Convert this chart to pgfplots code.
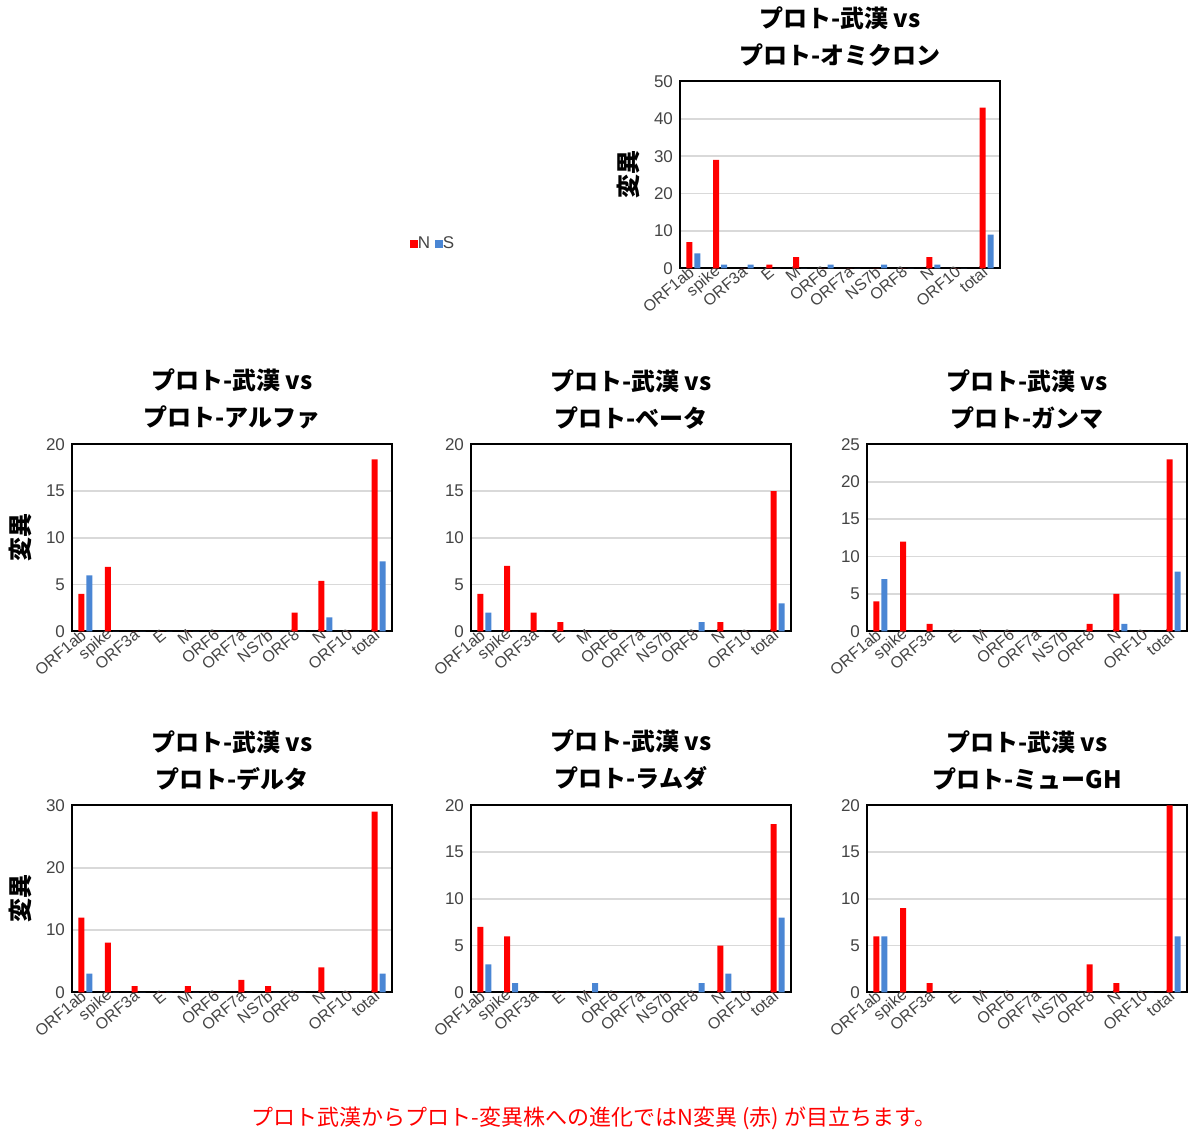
\documentclass[border=0pt]{standalone}
\usepackage{fontspec}
\setmainfont{Liberation Sans}
\newfontfamily\jp{Noto Sans CJK JP}
\usepackage{pgfplots}
\pgfplotsset{compat=1.18}
\definecolor{nred}{HTML}{FF0000}
\definecolor{sblue}{HTML}{4A86D4}
\definecolor{tick}{HTML}{444444}
\pgfplotsset{panel/.style={
  scale only axis, width=160pt, height=93.5pt, anchor=north west,
  ybar=1pt, bar width=3pt, xmin=-0.5, xmax=11.5, ymin=0,
  xtick={0,...,11}, xticklabels={ORF1ab,spike,ORF3a,E,M,ORF6,ORF7a,NS7b,ORF8,N,ORF10,total},
  x tick label style={rotate=40, anchor=east, font=\fontsize{8}{9}\selectfont, text=tick, inner sep=1pt},
  y tick label style={font=\fontsize{8.5}{10}\selectfont, text=tick},
  /pgf/number format/assume math mode=true,
  major tick length=0pt, ymajorgrids, grid style={gray!30, line width=0.8pt},
  axis line style={black, line width=1pt},
  title style={font=\jp\bfseries\fontsize{12}{18.5}\selectfont, align=center, yshift=-2pt},
  ylabel style={font=\jp\bfseries\fontsize{12}{14}\selectfont},
  every axis plot/.append style={draw=none},
}}
\begin{document}
\begin{tikzpicture}
\path (0pt,0pt) rectangle (600pt,-565.5pt);
% Omicron
\begin{axis}[panel, at={(340pt,-37.5pt)}, ymax=50, ytick={0,10,...,50}, title={プロト-武漢 vs\\プロト-オミクロン}, ylabel={変異}]
\addplot[fill=nred] coordinates {(0,7)(1,29)(2,0)(3,1)(4,3)(5,0)(6,0)(7,0)(8,0)(9,3)(10,0)(11,43)};
\addplot[fill=sblue] coordinates {(0,4)(1,1)(2,1)(3,0)(4,0)(5,1)(6,0)(7,1)(8,0)(9,1)(10,0)(11,9)};
\end{axis}
% Alpha
\begin{axis}[panel, at={(36pt,-219pt)}, ymax=20, ytick={0,5,...,20}, title={プロト-武漢 vs\\プロト-アルファ}, ylabel={変異}]
\addplot[fill=nred] coordinates {(0,4)(1,6.9)(2,0)(3,0)(4,0)(5,0)(6,0)(7,0)(8,2)(9,5.4)(10,0)(11,18.4)};
\addplot[fill=sblue] coordinates {(0,6)(1,0)(2,0)(3,0)(4,0)(5,0)(6,0)(7,0)(8,0)(9,1.5)(10,0)(11,7.5)};
\end{axis}
% Beta
\begin{axis}[panel, at={(235.5pt,-219pt)}, ymax=20, ytick={0,5,...,20}, title={プロト-武漢 vs\\プロト-ベータ}]
\addplot[fill=nred] coordinates {(0,4)(1,7)(2,2)(3,1)(4,0)(5,0)(6,0)(7,0)(8,0)(9,1)(10,0)(11,15)};
\addplot[fill=sblue] coordinates {(0,2)(1,0)(2,0)(3,0)(4,0)(5,0)(6,0)(7,0)(8,1)(9,0)(10,0)(11,3)};
\end{axis}
% Gamma
\begin{axis}[panel, at={(433.5pt,-219pt)}, ymax=25, ytick={0,5,...,25}, title={プロト-武漢 vs\\プロト-ガンマ}]
\addplot[fill=nred] coordinates {(0,4)(1,12)(2,1)(3,0)(4,0)(5,0)(6,0)(7,0)(8,1)(9,5)(10,0)(11,23)};
\addplot[fill=sblue] coordinates {(0,7)(1,0)(2,0)(3,0)(4,0)(5,0)(6,0)(7,0)(8,0)(9,1)(10,0)(11,8)};
\end{axis}
% Delta
\begin{axis}[panel, at={(36pt,-399.5pt)}, ymax=30, ytick={0,10,...,30}, title={プロト-武漢 vs\\プロト-デルタ}, ylabel={変異}]
\addplot[fill=nred] coordinates {(0,12)(1,8)(2,1)(3,0)(4,1)(5,0)(6,2)(7,1)(8,0)(9,4)(10,0)(11,29)};
\addplot[fill=sblue] coordinates {(0,3)(1,0)(2,0)(3,0)(4,0)(5,0)(6,0)(7,0)(8,0)(9,0)(10,0)(11,3)};
\end{axis}
% Lambda
\begin{axis}[panel, at={(235.5pt,-399.5pt)}, ymax=20, ytick={0,5,...,20}, title={プロト-武漢 vs\\プロト-ラムダ}]
\addplot[fill=nred] coordinates {(0,7)(1,6)(2,0)(3,0)(4,0)(5,0)(6,0)(7,0)(8,0)(9,5)(10,0)(11,18)};
\addplot[fill=sblue] coordinates {(0,3)(1,1)(2,0)(3,0)(4,1)(5,0)(6,0)(7,0)(8,1)(9,2)(10,0)(11,8)};
\end{axis}
% Mu
\begin{axis}[panel, at={(433.5pt,-399.5pt)}, ymax=20, ytick={0,5,...,20}, title={プロト-武漢 vs\\プロト-ミューGH}]
\addplot[fill=nred] coordinates {(0,6)(1,9)(2,1)(3,0)(4,0)(5,0)(6,0)(7,0)(8,3)(9,1)(10,0)(11,20)};
\addplot[fill=sblue] coordinates {(0,6)(1,0)(2,0)(3,0)(4,0)(5,0)(6,0)(7,0)(8,0)(9,0)(10,0)(11,6)};
\end{axis}
\node[font=\fontsize{8.5}{10}\selectfont, text=tick] at (216pt,-118pt) {\textcolor{nred}{\rule{4pt}{4pt}}N \textcolor{sblue}{\rule{4pt}{4pt}}S};
\node[font=\jp\fontsize{11}{13}\selectfont, text=nred] at (297pt,-556pt) {プロト武漢からプロト-変異株への進化ではN変異 (赤) が目立ちます。};
\end{tikzpicture}
\end{document}
